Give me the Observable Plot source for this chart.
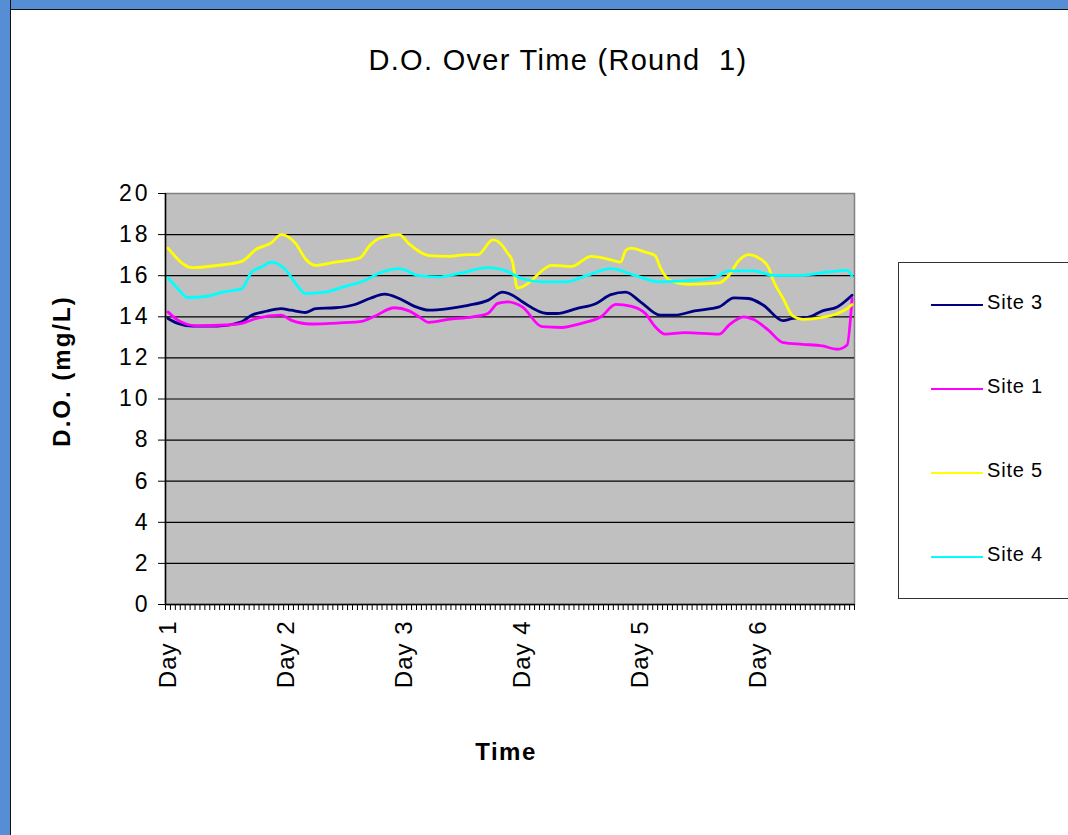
<!DOCTYPE html>
<html><head><meta charset="utf-8">
<script src="https://cdn.jsdelivr.net/npm/d3@7"></script>
<script src="https://cdn.jsdelivr.net/npm/@observablehq/plot@0.6"></script>
<style>
html,body{margin:0;padding:0;background:#fff;}
#wrap{position:relative;width:1068px;height:835px;overflow:hidden;background:#fff;font-family:"Liberation Sans",Arial,sans-serif;color:#000;}
#frameL{position:absolute;left:0;top:0;width:10px;height:835px;background:#558ED5;border-right:1.5px solid #111;z-index:3;}
#frameT{position:absolute;left:0;top:0;width:1068px;height:9px;background:#558ED5;border-bottom:1.5px solid #111;z-index:3;}
#chart{position:absolute;left:0;top:0;}
#title{position:absolute;left:258px;width:600px;top:44px;text-align:center;font-size:29px;letter-spacing:1.3px;white-space:pre;}
#ylab{position:absolute;left:62px;top:371px;transform:translate(-50%,-50%) rotate(-90deg);font-size:24px;font-weight:bold;letter-spacing:2px;white-space:nowrap;}
#xlab{position:absolute;left:506px;top:752px;transform:translate(-50%,-50%);font-size:24px;font-weight:bold;letter-spacing:1.5px;}
#legend{position:absolute;left:898px;top:262px;width:200px;height:335px;border:1px solid #333;background:#fff;}
.li{position:absolute;left:32px;height:20px;}
.li .sw{position:absolute;left:0;top:9px;width:52px;height:2px;}
.li .tx{position:absolute;left:56px;top:-4px;font-size:20px;letter-spacing:0.8px;white-space:nowrap;}
svg g[aria-label="y-axis tick label"] text{letter-spacing:3px;}
svg g[aria-label="x-axis tick label"] text{letter-spacing:1px;}
</style>
</head><body>
<div id="wrap">
  <div id="frameT"></div><div id="frameL"></div>
  <div id="chart"></div>
  <div id="title"></div>
  <div id="ylab"></div>
  <div id="xlab"></div>
  <div id="legend"></div>
</div>
<script>
// ---- data (hour index within the run, D.O. in mg/L) ----
const titleText = "D.O. Over Time (Round  1)";
const yLabel = "D.O. (mg/L)";
const xLabel = "Time";
const dayLabels = ["Day 1","Day 2","Day 3","Day 4","Day 5","Day 6"];
const yTicks = [0,2,4,6,8,10,12,14,16,18,20];
const hourCount = 140;

const site3Hours  = [0,2,5,10,15,17,20,23,25,28,30,34,38,41,44,47,50,53,57,61,65,68,70,72,77,79,83,87,90,93,96,100,103,107,112,115,118,121,125,127,130,133,136,139];
const site3Values = [13.92,13.68,13.55,13.55,13.76,14.08,14.27,14.4,14.32,14.21,14.4,14.44,14.6,14.89,15.1,14.89,14.52,14.32,14.4,14.56,14.8,15.2,15.05,14.73,14.16,14.16,14.4,14.65,15.08,15.2,14.73,14.08,14.08,14.29,14.48,14.92,14.89,14.56,13.81,13.92,13.97,14.29,14.48,15.05];

const site1Hours  = [0,2,6,12,15,18,23,25,29,33,39,42,46,49,51,53,57,62,65,67,69,72,76,80,84,88,91,94,97,99,101,105,112,114,117,119,122,125,129,133,136,138,139];
const site1Values = [14.24,13.84,13.56,13.6,13.68,13.92,14.08,13.84,13.65,13.68,13.76,14.03,14.44,14.29,14.0,13.73,13.87,14.0,14.16,14.65,14.73,14.48,13.52,13.48,13.68,14.0,14.6,14.52,14.16,13.52,13.16,13.23,13.16,13.6,14.0,13.87,13.35,12.74,12.66,12.58,12.42,12.63,14.89];

const site5Hours  = [0,5,10,15,18,21,23,26,28,30,34,39,41,43,47,49,53,57,61,63,66,68,69,70,71,73,74,78,82,86,90,92,93,94,97,99,100,102,106,112,114,116,118,120,122,123,125,127,129,133,136,138,139];
const site5Values = [17.34,16.39,16.5,16.7,17.3,17.6,18.0,17.55,16.8,16.5,16.66,16.87,17.47,17.82,18.0,17.55,16.98,16.94,17.03,17.03,17.74,17.45,17.1,16.7,15.4,15.6,15.8,16.5,16.45,16.94,16.77,16.66,17.23,17.34,17.15,16.98,16.42,15.77,15.58,15.65,16.02,16.74,17.03,16.87,16.42,15.77,14.89,14.03,13.87,13.97,14.16,14.4,14.6];

const site4Hours  = [0,2,4,8,11,15,17,19,21,24,26,28,32,36,40,43,47,51,55,59,65,68,72,76,81,85,90,95,100,106,111,114,119,123,129,134,138,139];
const site4Values = [15.9,15.37,14.94,15.0,15.2,15.37,16.18,16.42,16.66,16.26,15.6,15.13,15.2,15.48,15.77,16.13,16.34,16.0,15.94,16.1,16.39,16.29,15.85,15.7,15.7,16.0,16.34,16.0,15.7,15.77,15.9,16.23,16.23,16.02,16.02,16.18,16.26,16.0];

const seriesNames  = ["Site 3","Site 1","Site 5","Site 4"];
const seriesColors = ["#000080","#FF00FF","#FFFF00","#00FFFF"];
const seriesHours  = [site3Hours, site1Hours, site5Hours, site4Hours];
const seriesValues = [site3Values, site1Values, site5Values, site4Values];

// ---- build table ----
const rows = [];
seriesNames.forEach((name, s) => {
  seriesHours[s].forEach((h, k) => rows.push({site: name, hour: h, value: seriesValues[s][k]}));
});
const dayTicks = dayLabels.map((_, i) => i * 24 + 0.5);
const dayFmt = new Map(dayTicks.map((t, i) => [t, dayLabels[i]]));

const chart = Plot.plot({
  width: 1068, height: 835,
  marginLeft: 165, marginRight: 214, marginTop: 193, marginBottom: 231,
  style: {fontFamily: '"Liberation Sans", Arial, sans-serif', color: "#000", background: "transparent"},
  x: {domain: [0, hourCount]},
  y: {domain: [0, 20]},
  marks: [
    Plot.frame({fill: "#C0C0C0", stroke: "#808080", strokeWidth: 1.5}),
    Plot.gridY(yTicks.filter(t => t > 0 && t < 20), {stroke: "#000", strokeOpacity: 1, strokeWidth: 1.2}),
    ...seriesNames.map((name, s) =>
      Plot.line(rows.filter(r => r.site === name), {
        x: d => d.hour + 0.5, y: "value",
        stroke: seriesColors[s], strokeWidth: 2.8, strokeLinejoin: "round", curve: "monotone-x"
      })),
    Plot.ruleX([0], {stroke: "#000", strokeWidth: 1.5}),
    Plot.ruleY([0], {stroke: "#000", strokeWidth: 1.5}),
    Plot.axisY({ticks: yTicks, tickSize: 7, tickPadding: 8, fontSize: 23, label: null, stroke: "#000"}),
    Plot.axisX({ticks: d3.range(0, hourCount + 1), tickSize: 6, tickFormat: () => "", label: null, stroke: "#000"}),
    Plot.axisX({ticks: dayTicks, tickSize: 0, tickPadding: 16, tickRotate: -90, fontSize: 24,
      tickFormat: d => dayFmt.get(d), label: null})
  ]
});
document.getElementById("chart").appendChild(chart);

document.getElementById("title").textContent = titleText;
document.getElementById("ylab").textContent = yLabel;
document.getElementById("xlab").textContent = xLabel;

const legend = document.getElementById("legend");
const legendTops = [32, 116, 200, 284];
seriesNames.forEach((name, s) => {
  const li = document.createElement("div");
  li.className = "li";
  li.style.top = legendTops[s] + "px";
  const sw = document.createElement("div");
  sw.className = "sw"; sw.style.background = seriesColors[s];
  const tx = document.createElement("div");
  tx.className = "tx"; tx.textContent = name;
  li.appendChild(sw); li.appendChild(tx);
  legend.appendChild(li);
});
</script>
</body></html>
